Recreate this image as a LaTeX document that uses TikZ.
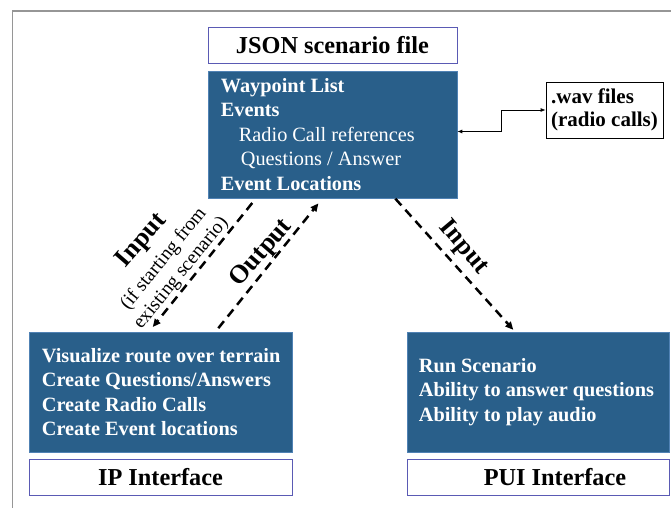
\documentclass[tikz,border=0pt]{standalone}
\usepackage{fontspec}
\setmainfont{Liberation Serif}
\usetikzlibrary{arrows.meta, calc}

\definecolor{boxblue}{RGB}{41,95,138}
\definecolor{boxedge}{RGB}{80,130,180}
\definecolor{titleedge}{RGB}{90,90,180}
\definecolor{framegray}{RGB}{150,150,150}

\begin{document}
\begin{tikzpicture}[
    x=1pt, y=-1pt,
    >={Triangle[length=8pt,width=7pt]},
    % Styles
    panel/.style={ % Blue content boxes
        rectangle,
        draw=boxedge,
        line width=0.6pt,
        fill=boxblue,
        inner sep=0pt
    },
    paneltext/.style={ % White text inside the blue boxes
        anchor=west,
        align=left,
        inner sep=0pt,
        text=white,
        font=\fontsize{20.3}{24.5}\selectfont\bfseries
    },
    caption/.style={ % White title boxes
        rectangle,
        draw=titleedge,
        line width=0.8pt,
        fill=white,
        inner sep=0pt,
        minimum height=36pt,
        font=\fontsize{24.3}{28}\selectfont\bfseries
    },
    filebox/.style={ % Side box for audio files
        rectangle,
        draw,
        line width=0.8pt,
        align=left,
        inner xsep=4pt,
        minimum width=117pt,
        minimum height=56pt,
        font=\fontsize{21}{23}\selectfont\bfseries
    },
    flowlabel/.style={ % Labels along the dashed arrows
        inner sep=0pt,
        font=\fontsize{26}{30}\selectfont\bfseries
    },
    note/.style={ % Small remark next to an arrow
        inner sep=0pt,
        align=center,
        font=\fontsize{19.5}{22.5}\selectfont
    },
    flow/.style={ % Dashed data flow arrows
        ->,
        line width=2.5pt,
        dash pattern=on 9pt off 6pt
    },
    wire/.style={ % Thin two-way connector
        {Latex[length=5pt,width=4pt]}-{Latex[length=5pt,width=4pt]},
        line width=0.8pt
    },
    frame/.style={ % Slide border
        draw=framegray,
        line width=1.5pt
    }
]

    \useasboundingbox (0,0) rectangle (671,508);

    % Slide border
    \draw [frame] (671,11) -- (12.5,11) -- (12.5,508);

    % Scenario file
    \node [caption, minimum width=249pt] (jsontitle) at (332.5,45.5) {JSON scenario file};
    \node [panel, minimum width=249pt, minimum height=127pt] (jsonbox) at (332.5,134.5) {};
    \node [paneltext] (jsonlist) at ([xshift=13pt]jsonbox.west) {Waypoint List\\
        Events\\
        \mdseries\hspace*{18pt}Radio Call references\\
        \mdseries\hspace*{20pt}Questions / Answer\\
        Event Locations};

    % Audio files
    \node [filebox] (wavbox) at (604.5,110) {.wav files\\(radio calls)};

    % IP interface
    \node [panel, minimum width=263pt, minimum height=120pt] (ipbox) at (160.5,392) {};
    \node [paneltext] (iplist) at ([xshift=13pt]ipbox.west) {Visualize route over terrain\\
        Create Questions/Answers\\
        Create Radio Calls\\
        Create Event locations};
    \node [caption, minimum width=263pt] (iptitle) at (160.5,477) {IP Interface};

    % PUI interface
    \node [panel, minimum width=262pt, minimum height=120pt] (puibox) at (538,392) {};
    \node [paneltext] (puilist) at ([xshift=12pt]puibox.west) {Run Scenario\\
        Ability to answer questions\\
        Ability to play audio};
    \node [caption, minimum width=262pt] (puititle) at (538,477) {\hspace*{34pt}PUI Interface};

    % Connectors
    \draw [wire] ([yshift=3pt]jsonbox.east) -| ($(jsonbox.east)!0.5!(wavbox.west)$) |- (wavbox.west);
    \draw [flow, shorten <=6pt, shorten >=6pt] ([xshift=-76.5pt]jsonbox.south) -- ([xshift=-11.5pt]ipbox.north);
    \draw [flow, shorten <=4.5pt, shorten >=6.5pt] ([xshift=55pt]ipbox.north) -- ([xshift=-10pt]jsonbox.south);
    \draw [flow, shorten <=0.5pt, shorten >=2.5pt] ([xshift=62.5pt]jsonbox.south) -- ([xshift=-23pt]puibox.north);

    % Arrow labels
    \node [flowlabel, rotate=49] (ipinlabel) at (142,241) {Input};
    \node [note, rotate=51] (ipinnote) at (172.5,266) {(if starting from\\existing scenario)};
    \node [flowlabel, rotate=49] (ipoutlabel) at (261.7,253.3) {Output};
    \node [flowlabel, rotate=-50] (puiinlabel) at (463.3,247.3) {Input};
\end{tikzpicture}
\end{document}
